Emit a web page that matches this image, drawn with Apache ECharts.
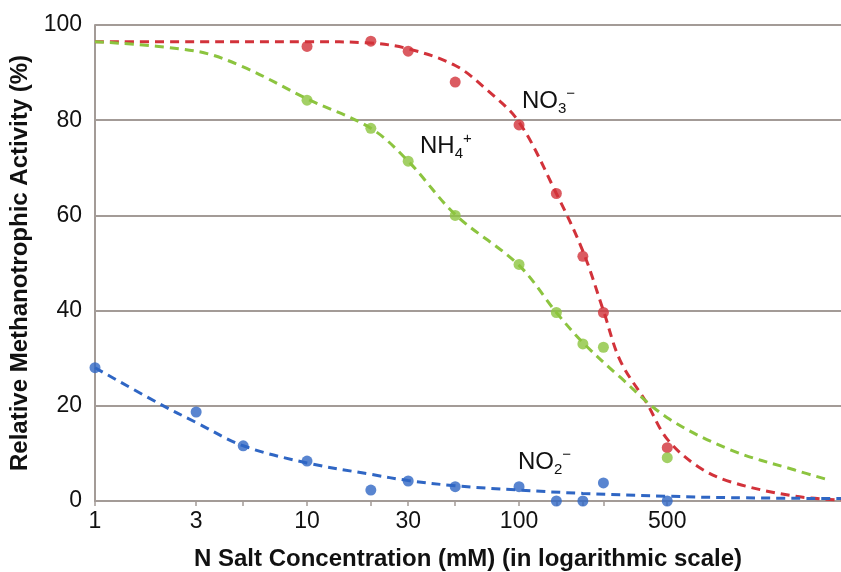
<!DOCTYPE html>
<html><head><meta charset="utf-8">
<script src="https://cdn.jsdelivr.net/npm/echarts@6/dist/echarts.min.js"></script>
<style>html,body{margin:0;padding:0;background:#fff}#c{width:841px;height:572px}</style>
</head><body><div id="c"></div>
<script>
// tick labels and tick marks (mM, log axis)
const xTickLabels = [1, 3, 10, 30, 100, 500];
const xTickMarks = [1, 3, 5, 10, 20, 30, 50, 100, 150, 200, 250, 500];

// measured points
const no3X = [10, 20, 30, 50, 100, 150, 200, 250, 500];
const no3Y = [95.5, 96.6, 94.5, 88, 79, 64.6, 51.4, 39.6, 11.2];
const nh4X = [10, 20, 30, 50, 100, 150, 200, 250, 500];
const nh4Y = [84.2, 78.3, 71.4, 60, 49.7, 39.6, 33, 32.3, 9.1];
const no2X = [1, 3, 5, 10, 20, 30, 50, 100, 150, 200, 250, 500];
const no2Y = [28, 18.7, 11.6, 8.4, 2.3, 4.2, 3, 3, 0, 0, 3.8, 0];

// fitted curves
const no3FitX = [1, 3, 10, 20, 30, 50, 70, 100, 150, 200, 250, 300, 400, 500, 700, 1000, 2000, 3300];
const no3FitY = [96.5, 96.5, 96.5, 96.2, 95, 91.5, 86.5, 79.6, 64.6, 52.5, 40, 29.5, 20.6, 13, 7.2, 4, 1, 0.2];
const nh4FitX = [1, 3, 5, 10, 20, 30, 50, 100, 150, 200, 300, 500, 1000, 2000, 2800];
const nh4FitY = [96.5, 94.5, 91.2, 84.5, 78.3, 71.4, 60.2, 49.5, 39.6, 33.3, 26, 17.5, 10.7, 6.5, 4.6];
const no2FitX = [1, 2, 3, 5, 10, 20, 30, 50, 100, 200, 500, 1000, 3300];
const no2FitY = [28, 20.5, 16.5, 11.6, 8, 5.6, 4.3, 3.2, 2.3, 1.6, 1, 0.7, 0.5];

const RED = '#d2323a', GREEN = '#8cc43f', BLUE = '#2f66c4';
const zip = (a, b) => a.map((v, i) => [v, b[i]]);

function fit(name, xs, ys, color) {
  return { name, type: 'line', data: zip(xs, ys), showSymbol: false, smooth: 0.35,
    lineStyle: { color, width: 3, type: [9, 6] }, clip: false, z: 2, silent: true };
}
function pts(name, xs, ys, color) {
  return { name, type: 'scatter', data: zip(xs, ys), symbol: 'circle', symbolSize: 11,
    itemStyle: { color }, clip: false, z: 3 };
}
const richLbl = {
  m: { fontFamily: 'Liberation Sans', fontSize: 24, fill: '#111', lineHeight: 30 },
  s: { fontFamily: 'Liberation Sans', fontSize: 15, fill: '#111', padding: [15, 0, 0, 0] },
  p: { fontFamily: 'Liberation Sans', fontSize: 15, fill: '#111', padding: [0, 0, 15, 0] }
};

const chart = echarts.init(document.getElementById('c'), null, { renderer: 'canvas' });
chart.setOption({
  animation: false,
  backgroundColor: '#fff',
  grid: { left: 95, right: 0, top: 25, bottom: 71, containLabel: false, outerBoundsMode: 'none' },
  xAxis: {
    type: 'log', logBase: 10, min: 1, max: 3300,
    name: 'N Salt Concentration (mM) (in logarithmic scale)',
    nameLocation: 'middle', nameGap: 46,
    nameTextStyle: { fontFamily: 'Liberation Sans', fontWeight: 'bold', fontSize: 24, color: '#111' },
    axisLine: { lineStyle: { color: '#a39b97', width: 2 } },
    axisTick: { show: true, customValues: xTickMarks, length: 5, lineStyle: { color: '#a39b97', width: 1.5 } },
    axisLabel: { customValues: xTickLabels, fontFamily: 'Liberation Sans', fontSize: 23, color: '#111', margin: 9 },
    splitLine: { show: false }, minorTick: { show: false }
  },
  yAxis: {
    type: 'value', min: 0, max: 100, interval: 20,
    name: 'Relative Methanotrophic Activity (%)',
    nameLocation: 'middle', nameGap: 62,
    nameTextStyle: { fontFamily: 'Liberation Sans', fontWeight: 'bold', fontSize: 24, color: '#111' },
    axisLine: { show: true, lineStyle: { color: '#a39b97', width: 2 } },
    axisTick: { show: false },
    axisLabel: { fontFamily: 'Liberation Sans', fontSize: 23, color: '#111', margin: 13 },
    splitLine: { show: true, lineStyle: { color: '#a39b97', width: 2 } }
  },
  graphic: [
    { type: 'text', left: 522, top: 86, style: { text: '{m|NO}{s|3}{p|−}', rich: richLbl } },
    { type: 'text', left: 420, top: 131, style: { text: '{m|NH}{s|4}{p|+}', rich: richLbl } },
    { type: 'text', left: 518, top: 447, style: { text: '{m|NO}{s|2}{p|−}', rich: richLbl } }
  ],
  series: [
    fit('NO3 fit', no3FitX, no3FitY, RED),
    fit('NH4 fit', nh4FitX, nh4FitY, GREEN),
    fit('NO2 fit', no2FitX, no2FitY, BLUE),
    pts('NO3−', no3X, no3Y, RED),
    pts('NH4+', nh4X, nh4Y, GREEN),
    pts('NO2−', no2X, no2Y, BLUE)
  ]
});
</script></body></html>
